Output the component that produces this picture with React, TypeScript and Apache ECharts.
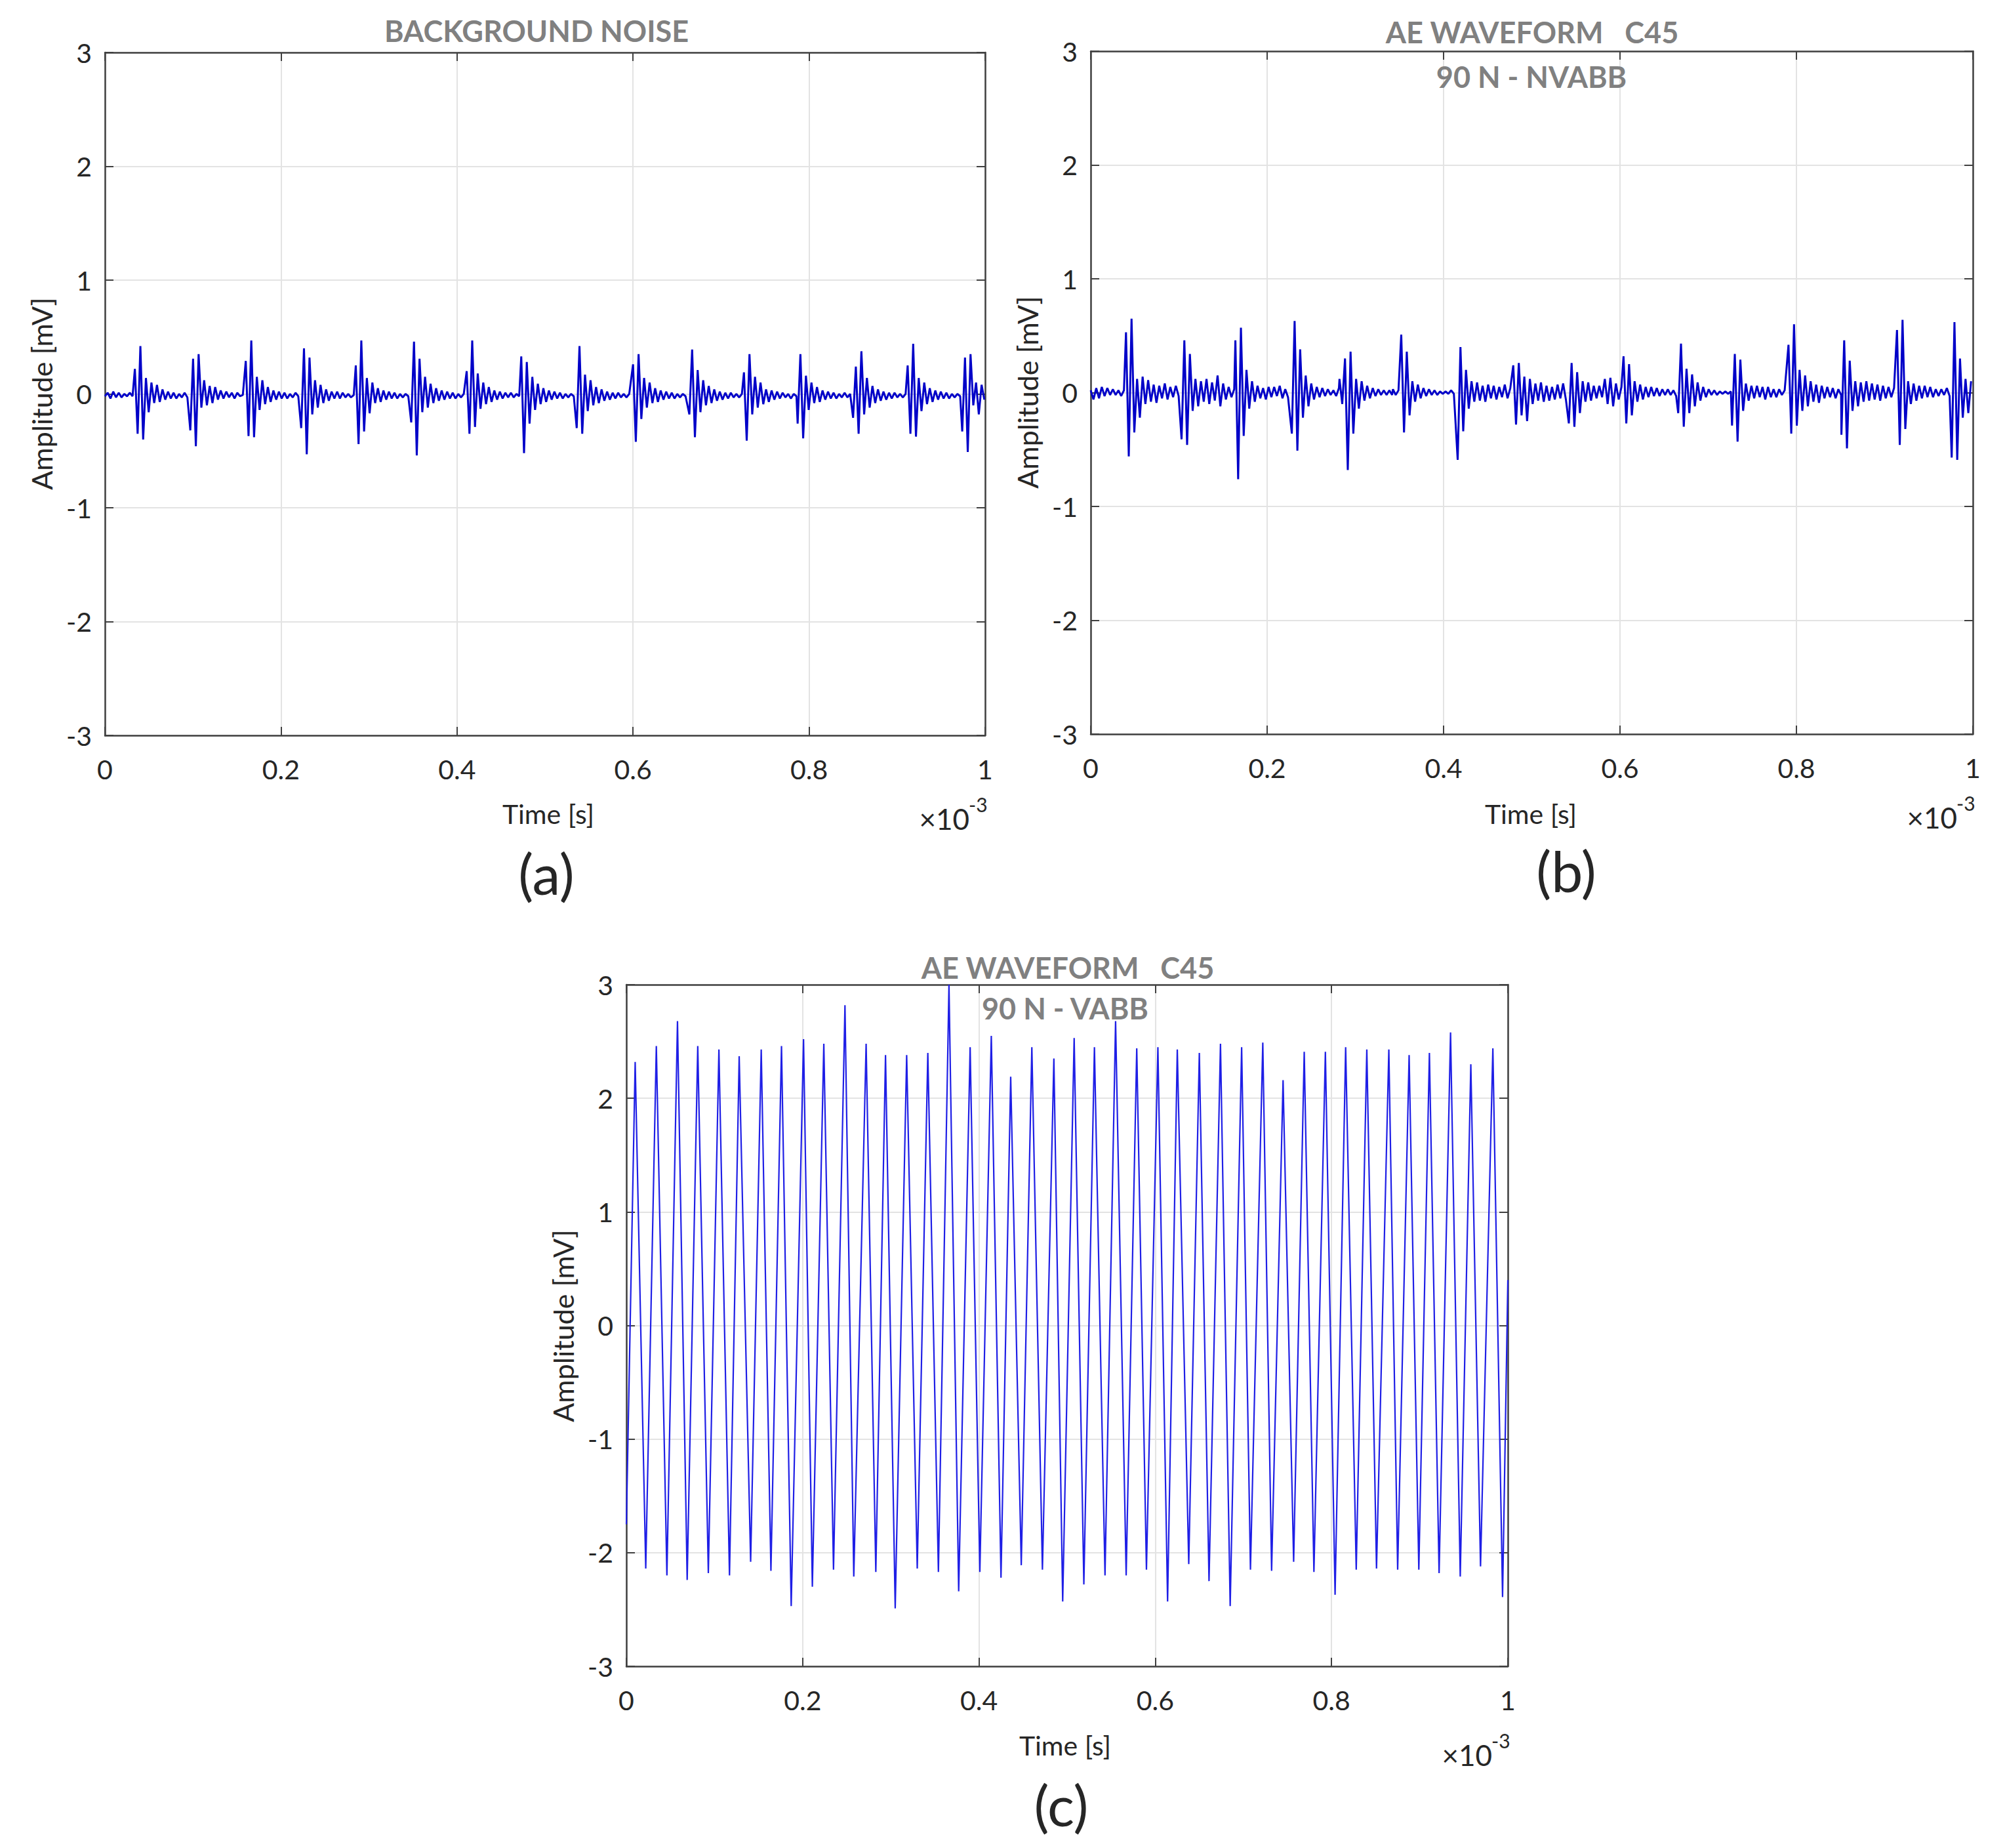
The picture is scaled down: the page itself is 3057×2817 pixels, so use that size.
import React, { useEffect, useRef } from "react";
import * as echarts from "echarts";

// ---------- DATA ----------
// sampling interval of the waveform samples (ms)
const SAMPLE_MS = 0.00314;

// (a) BACKGROUND NOISE
const aLead = [-0.02, 0.01, -0.04, 0.02, -0.03, 0.01, -0.03, 0.00, -0.02, 0.01, -0.02];
const aOnsets = [0.034, 0.097, 0.160, 0.223, 0.285, 0.348, 0.411, 0.473, 0.536, 0.600, 0.664, 0.726, 0.787, 0.850, 0.912, 0.974];
const aBursts = [
  [0.22, -0.35, 0.42, -0.40, 0.14, -0.16, 0.10, -0.08, 0.08, -0.07, 0.04, -0.05, 0.02, -0.04, 0.01, -0.04, 0.00, -0.03, 0.01, -0.03],
  [-0.32, 0.31, -0.46, 0.35, -0.12, 0.12, -0.10, 0.07, -0.08, 0.06, -0.05, 0.03, -0.04, 0.02, -0.03, 0.01, -0.04, 0.01, -0.02, -0.01],
  [0.29, -0.37, 0.47, -0.38, 0.15, -0.14, 0.12, -0.09, 0.06, -0.07, 0.03, -0.05, 0.02, -0.04, 0.01, -0.04, 0.00, -0.03, 0.01, -0.02],
  [-0.30, 0.40, -0.53, 0.32, -0.18, 0.12, -0.12, 0.08, -0.08, 0.04, -0.06, 0.02, -0.04, 0.02, -0.04, 0.01, -0.03, 0.00, -0.03, -0.01],
  [0.25, -0.44, 0.47, -0.33, 0.14, -0.17, 0.10, -0.08, 0.05, -0.07, 0.03, -0.05, 0.02, -0.04, 0.01, -0.04, 0.00, -0.03, 0.00, -0.02],
  [-0.25, 0.46, -0.54, 0.31, -0.16, 0.15, -0.12, 0.09, -0.08, 0.05, -0.06, 0.03, -0.05, 0.02, -0.04, 0.01, -0.04, 0.00, -0.03, 0.00],
  [0.20, -0.35, 0.47, -0.29, 0.18, -0.13, 0.10, -0.09, 0.06, -0.07, 0.03, -0.05, 0.02, -0.04, 0.01, -0.03, 0.01, -0.03, 0.00, -0.02],
  [0.33, -0.52, 0.28, -0.26, 0.15, -0.14, 0.09, -0.09, 0.05, -0.07, 0.03, -0.05, 0.02, -0.04, 0.01, -0.04, 0.00, -0.03, 0.00, -0.02],
  [-0.30, 0.42, -0.35, 0.17, -0.15, 0.12, -0.10, 0.06, -0.08, 0.04, -0.06, 0.02, -0.05, 0.01, -0.04, 0.01, -0.03, 0.00, -0.03, 0.00],
  [0.26, -0.42, 0.35, -0.22, 0.14, -0.12, 0.10, -0.08, 0.05, -0.07, 0.03, -0.05, 0.02, -0.04, 0.01, -0.04, 0.00, -0.03, 0.00, -0.02],
  [-0.18, 0.39, -0.38, 0.21, -0.16, 0.12, -0.10, 0.07, -0.08, 0.04, -0.06, 0.02, -0.05, 0.01, -0.04, 0.01, -0.03, 0.00, -0.03, 0.00],
  [0.19, -0.41, 0.35, -0.18, 0.15, -0.12, 0.10, -0.09, 0.04, -0.07, 0.03, -0.05, 0.02, -0.04, 0.01, -0.03, 0.00, -0.04, 0.00, -0.02],
  [-0.26, 0.35, -0.39, 0.16, -0.14, 0.10, -0.08, 0.06, -0.07, 0.03, -0.05, 0.02, -0.04, 0.01, -0.04, 0.00, -0.03, 0.01, -0.03, 0.00],
  [-0.21, 0.24, -0.35, 0.375, -0.18, 0.14, -0.12, 0.07, -0.08, 0.04, -0.06, 0.02, -0.05, 0.01, -0.04, 0.01, -0.03, 0.00, -0.03, 0.00],
  [0.25, -0.35, 0.44, -0.375, 0.14, -0.15, 0.10, -0.09, 0.05, -0.07, 0.03, -0.05, 0.02, -0.04, 0.01, -0.04, 0.00, -0.03, 0.00, -0.02],
  [-0.33, 0.32, -0.51, 0.35, -0.10, 0.10, -0.18, 0.08, -0.05],
];

// (b) AE WAVEFORM C45, 90 N - NVABB
const bLead = [0.02, -0.06, 0.04, -0.05, 0.05, -0.03, 0.04, -0.02, 0.03, -0.02, 0.02, -0.03, 0.02];
const bOnsets = [0.040, 0.103, 0.164, 0.228, 0.282, 0.3426, 0.416, 0.479, 0.542, 0.604, 0.666, 0.727, 0.791, 0.851, 0.914, 0.976];
const bBursts = [
  [0.53, -0.56, 0.65, -0.35, 0.12, -0.22, 0.14, -0.10, 0.11, -0.08, 0.07, -0.09, 0.06, -0.05, 0.08, -0.06, 0.05, -0.04, 0.06, -0.03],
  [-0.41, 0.46, -0.46, 0.34, -0.16, 0.12, -0.12, 0.10, -0.08, 0.12, -0.10, 0.09, -0.07, 0.15, -0.12, 0.08, -0.06, 0.05, -0.04, 0.03],
  [0.46, -0.76, 0.57, -0.38, 0.20, -0.14, 0.10, -0.08, 0.06, -0.05, 0.04, -0.06, 0.05, -0.04, 0.05, -0.03, 0.06, -0.05, 0.03, -0.04],
  [-0.36, 0.63, -0.51, 0.38, -0.22, 0.15, -0.12, 0.08, -0.06, 0.05, -0.04, 0.04, -0.03, 0.03, -0.02, 0.02, -0.03, 0.04, -0.05, 0.03],
  [0.12, -0.10, 0.30, -0.68, 0.36, -0.36, 0.12, -0.14, 0.10, -0.07, 0.06, -0.05, 0.04, -0.03, 0.03, -0.02, 0.02, -0.02, 0.02, -0.02],
  [0.03, -0.02, 0.02, 0.51, -0.35, 0.36, -0.20, 0.10, -0.08, 0.07, -0.05, 0.04, -0.03, 0.03, -0.02, 0.02, -0.02, 0.01, -0.01, 0.01, -0.01, 0.02, -0.01],
  [-0.59, 0.40, -0.34, 0.20, -0.14, 0.10, -0.08, 0.09, -0.07, 0.06, -0.08, 0.07, -0.05, 0.06, -0.06, 0.05, -0.04, 0.07, -0.05, 0.04],
  [0.24, -0.28, 0.26, -0.20, 0.14, -0.25, 0.12, -0.10, 0.08, -0.07, 0.09, -0.08, 0.06, -0.07, 0.05, -0.06, 0.07, -0.05, 0.08, -0.06],
  [-0.27, 0.26, -0.30, 0.18, -0.18, 0.10, -0.08, 0.09, -0.07, 0.06, -0.05, 0.06, -0.04, 0.12, -0.10, 0.13, -0.12, 0.08, -0.06, 0.05],
  [0.32, -0.27, 0.25, -0.20, 0.10, -0.08, 0.07, -0.06, 0.05, -0.04, 0.05, -0.03, 0.04, -0.03, 0.03, -0.02, 0.03, -0.02, 0.02, -0.03],
  [-0.18, 0.43, -0.30, 0.21, -0.18, 0.16, -0.12, 0.09, -0.07, 0.05, -0.04, 0.03, -0.02, 0.02, -0.02, 0.01, -0.01, 0.01, -0.01, 0.01],
  [-0.29, 0.34, -0.43, 0.29, -0.16, 0.08, -0.07, 0.06, -0.05, 0.06, -0.04, 0.05, -0.06, 0.05, -0.04, 0.03, -0.04, 0.03, -0.02, 0.02],
  [0.42, -0.36, 0.60, -0.29, 0.20, -0.16, 0.15, -0.12, 0.10, -0.08, 0.07, -0.09, 0.06, -0.05, 0.05, -0.04, 0.04, -0.05, 0.03, -0.02],
  [-0.37, 0.46, -0.49, 0.28, -0.16, 0.10, -0.12, 0.09, -0.08, 0.10, -0.07, 0.08, -0.06, 0.07, -0.07, 0.06, -0.05, 0.05, -0.04, 0.04],
  [0.55, -0.46, 0.64, -0.32, 0.10, -0.10, 0.08, -0.07, 0.06, -0.05, 0.06, -0.04, 0.05, -0.04, 0.03, -0.03, 0.03, -0.02, 0.04, -0.03],
  [-0.57, 0.62, -0.59, 0.30, -0.22, 0.12, -0.18, 0.10],
];

// (c) AE WAVEFORM C45, 90 N - VABB : peaks and troughs of the oscillation
const cStart = [0, -1.75];
const cEnd = [1.0, 0.4];
const cPeakT = [0.010, 0.034, 0.058, 0.081, 0.105, 0.128, 0.153, 0.176, 0.201, 0.224, 0.248, 0.272, 0.294, 0.318, 0.342, 0.366, 0.390, 0.414, 0.436, 0.460, 0.485, 0.508, 0.531, 0.555, 0.579, 0.603, 0.625, 0.650, 0.674, 0.698, 0.722, 0.745, 0.769, 0.793, 0.816, 0.840, 0.865, 0.888, 0.911, 0.935, 0.958, 0.983];
const cPeakV = [2.32, 2.46, 2.68, 2.46, 2.43, 2.37, 2.43, 2.46, 2.52, 2.48, 2.82, 2.48, 2.38, 2.38, 2.40, 3.00, 2.45, 2.55, 2.19, 2.45, 2.35, 2.53, 2.45, 2.68, 2.44, 2.45, 2.43, 2.40, 2.48, 2.45, 2.49, 2.16, 2.41, 2.41, 2.45, 2.43, 2.43, 2.38, 2.40, 2.58, 2.30, 2.44];
const cTroughT = [0.022, 0.046, 0.069, 0.093, 0.117, 0.141, 0.164, 0.187, 0.211, 0.235, 0.258, 0.283, 0.305, 0.330, 0.354, 0.377, 0.401, 0.425, 0.448, 0.472, 0.495, 0.519, 0.543, 0.567, 0.590, 0.614, 0.638, 0.661, 0.685, 0.708, 0.732, 0.757, 0.780, 0.804, 0.828, 0.851, 0.875, 0.899, 0.922, 0.946, 0.969, 0.994];
const cTroughV = [-2.14, -2.20, -2.24, -2.18, -2.20, -2.08, -2.16, -2.47, -2.30, -2.15, -2.21, -2.17, -2.49, -2.14, -2.17, -2.34, -2.17, -2.22, -2.11, -2.15, -2.43, -2.28, -2.20, -2.20, -2.15, -2.43, -2.10, -2.25, -2.47, -2.15, -2.16, -2.08, -2.17, -2.37, -2.15, -2.14, -2.15, -2.15, -2.18, -2.21, -2.12, -2.39];

const X_TICKS = [0, 0.2, 0.4, 0.6, 0.8, 1];
const Y_TICKS = [-3, -2, -1, 0, 1, 2, 3];

// ---------- BUILD ----------
function buildBurstWave(lead: number[], onsets: number[], bursts: number[][]) {
  const pts: number[][] = [];
  lead.forEach((v, i) => pts.push([i * SAMPLE_MS, v]));
  onsets.forEach((o, j) => {
    const next = j + 1 < onsets.length ? onsets[j + 1] : 1.0001;
    bursts[j].forEach((v, k) => {
      const t = o + k * SAMPLE_MS;
      if (t < next && t <= 1) pts.push([t, v]);
    });
  });
  return pts;
}

function buildOsc() {
  const pts: number[][] = [cStart];
  cPeakT.forEach((t, i) => {
    pts.push([t, cPeakV[i]]);
    pts.push([cTroughT[i], cTroughV[i]]);
  });
  pts.push(cEnd);
  return pts;
}

const FONT = "Lato";
const AXIS_COLOR = "#404040";
const LABEL_COLOR = "#262626";
const TITLE_COLOR = "#808080";

const GRIDS = [
  { left: 160, top: 80, width: 1342, height: 1041 },
  { left: 1663, top: 78, width: 1345, height: 1041 },
  { left: 955, top: 1501, width: 1344, height: 1039 },
];

export default function App() {
  const ref = useRef<HTMLDivElement>(null);
  useEffect(() => {
    if (!ref.current) return;
    const chart = echarts.init(ref.current, undefined, { renderer: "svg" });
    const xAxes: any[] = [];
    const yAxes: any[] = [];
    const fmt = (v: number) => String(Math.round(v * 10) / 10);
    GRIDS.forEach((_, i) => {
      const common = {
        gridIndex: i,
        type: "value",
        axisLine: { show: true, onZero: false, lineStyle: { color: AXIS_COLOR, width: 2.5 } },
        axisTick: { show: true, inside: true, length: 13, lineStyle: { color: AXIS_COLOR, width: 2 } },
      };
      xAxes.push({
        ...common,
        position: "bottom",
        min: X_TICKS[0],
        max: X_TICKS[X_TICKS.length - 1],
        interval: 0.2,
        axisLabel: { show: true, margin: 31, fontFamily: FONT, fontSize: 41, color: LABEL_COLOR, formatter: fmt },
        splitLine: { show: true, lineStyle: { color: "#e3e3e3", width: 2 } },
      });
      xAxes.push({
        ...common,
        position: "top",
        min: X_TICKS[0],
        max: X_TICKS[X_TICKS.length - 1],
        interval: 0.2,
        axisLabel: { show: false },
        splitLine: { show: false },
      });
      yAxes.push({
        ...common,
        position: "left",
        min: Y_TICKS[0],
        max: Y_TICKS[Y_TICKS.length - 1],
        interval: 1,
        axisLabel: { show: true, margin: 20, fontFamily: FONT, fontSize: 41, color: LABEL_COLOR },
        splitLine: { show: true, lineStyle: { color: "#e3e3e3", width: 2 } },
      });
      yAxes.push({
        ...common,
        position: "right",
        min: Y_TICKS[0],
        max: Y_TICKS[Y_TICKS.length - 1],
        interval: 1,
        axisLabel: { show: false },
        splitLine: { show: false },
      });
    });

    const waves = [
      buildBurstWave(aLead, aOnsets, aBursts),
      buildBurstWave(bLead, bOnsets, bBursts),
      buildOsc(),
    ];
    const series = waves.map((d, i) => ({
      type: "line",
      xAxisIndex: i * 2,
      yAxisIndex: i * 2,
      data: d,
      showSymbol: false,
      symbol: "none",
      clip: true,
      lineStyle: { color: i === 2 ? "#1f1fe6" : "#0000c8", width: i === 2 ? 2.2 : 3 },
      z: 3,
    }));

    const title = (x: number, y: number, text: string) => ({
      type: "text",
      x,
      y,
      z: 10,
      style: { text, fontFamily: FONT, fontWeight: "bold", fontSize: 45, fill: TITLE_COLOR, textAlign: "center", textVerticalAlign: "middle" },
    });
    const plain = (x: number, y: number, text: string, size: number, align = "center", rot = 0) => ({
      type: "text",
      x,
      y,
      rotation: rot,
      z: 10,
      style: { text, fontFamily: FONT, fontSize: size, fill: LABEL_COLOR, textAlign: align, textVerticalAlign: "middle" },
    });

    const graphic: any[] = [
      title(818, 47, "BACKGROUND NOISE"),
      title(2336, 49, "AE WAVEFORM   C45"),
      title(2335, 117, "90 N - NVABB"),
      title(1628, 1475, "AE WAVEFORM   C45"),
      title(1624, 1537, "90 N - VABB"),
    ];
    const labelPos = [
      { timeX: 836, timeY: 1240, ampX: 63, ampY: 600, expY: 1248, tagX: 833, tagY: 1330, tag: "(a)" },
      { timeX: 2334, timeY: 1240, ampX: 1566, ampY: 598, expY: 1246, tagX: 2388, tagY: 1326, tag: "(b)" },
      { timeX: 1624, timeY: 2660, ampX: 858, ampY: 2021, expY: 2675, tagX: 1618, tagY: 2750, tag: "(c)" },
    ];
    labelPos.forEach((p, i) => {
      const g = GRIDS[i];
      const right = g.left + g.width;
      graphic.push(plain(p.timeX, p.timeY, "Time [s]", 41));
      graphic.push(plain(p.ampX, p.ampY, "Amplitude [mV]", 43, "center", Math.PI / 2));
      graphic.push(plain(right - 24, p.expY, "×10", 44, "right"));
      graphic.push(plain(right - 25, p.expY - 22, "-3", 30, "left"));
      graphic.push(plain(p.tagX, p.tagY, p.tag, 86));
    });

    chart.setOption({
      animation: false,
      backgroundColor: "#ffffff",
      grid: GRIDS.map((g) => ({ ...g, containLabel: false })),
      xAxis: xAxes,
      yAxis: yAxes,
      series,
      graphic,
    });
    return () => chart.dispose();
  }, []);
  return <div ref={ref} style={{ position: "absolute", left: 0, top: 0, width: 3057, height: 2817 }} />;
}
